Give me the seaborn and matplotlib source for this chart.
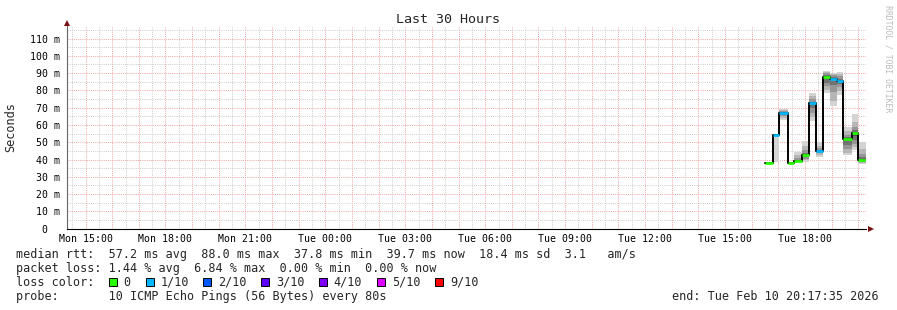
import numpy as np
import pandas as pd
import matplotlib
matplotlib.use("Agg")
import matplotlib.pyplot as plt
from matplotlib.ticker import MultipleLocator, FuncFormatter
from matplotlib.patches import Rectangle
import seaborn as sns

# ---------------- data ----------------
# step start times in hours since Mon 00:00
step_start = [40.513, 40.813, 41.038, 41.376, 41.600, 41.900, 42.163,
              42.425, 42.687, 42.950, 43.212, 43.437, 43.774, 43.999]
end_time = 44.293
median_ms = [37.8, 54.2, 66.7, 37.9, 39.3, 42.6, 72.5,
             44.9, 88.0, 86.6, 85.6, 51.7, 55.2, 39.7]
loss_count = [0, 1, 1, 0, 0, 0, 1, 1, 0, 1, 1, 0, 0, 0]
pings_ms = [
    [37.5, 37.6, 37.7, 37.7, 37.8, 37.8, 37.9, 38.0, 38.1, 38.3],
    [38.5, 54.0, 54.1, 54.1, 54.2, 54.2, 54.3, 54.3, 54.4],
    [63.0, 64.0, 65.2, 66.0, 66.7, 67.2, 67.8, 68.4, 69.3],
    [37.6, 37.7, 37.8, 37.8, 37.9, 37.9, 38.0, 38.0, 38.1, 38.2],
    [38.5, 38.7, 38.9, 39.1, 39.3, 39.3, 39.8, 40.8, 42.5, 44.3],
    [38.5, 39.5, 40.6, 41.6, 42.4, 42.8, 43.8, 45.3, 48.0, 51.0],
    [62.3, 64.5, 67.0, 70.0, 72.5, 73.5, 74.8, 76.5, 78.5],
    [41.4, 42.5, 43.5, 44.3, 44.9, 45.6, 46.6, 48.0, 50.0],
    [78.5, 80.5, 82.5, 84.5, 86.5, 88.0, 89.0, 89.8, 90.5, 91.1],
    [71.0, 74.0, 79.0, 83.0, 86.6, 87.8, 88.8, 89.6, 90.2],
    [77.2, 79.5, 81.8, 83.8, 85.6, 86.8, 88.2, 89.5, 90.7],
    [42.4, 44.0, 46.0, 48.5, 50.8, 51.7, 52.8, 54.3, 56.5, 58.8],
    [45.3, 47.0, 49.0, 51.2, 53.5, 55.2, 56.8, 58.8, 62.0, 66.2],
    [37.5, 38.0, 38.8, 39.3, 39.7, 40.4, 41.5, 43.0, 46.0, 50.0],
]
loss_labels = ["0", "1/10", "2/10", "3/10", "4/10", "5/10", "9/10"]
loss_values = [0, 1, 2, 3, 4, 5, 9]
loss_colors = ["#26ff00", "#00b8ff", "#0059ff", "#5e00ff", "#7e00ff", "#dd00ff", "#ff0000"]
smoke_shades = ["#d4d4d4", "#b6b6b6", "#969696", "#727272", "#4e4e4e"]

title = "Last 30 Hours"
y_label = "Seconds"
legend_lines = [
    "median rtt:  57.2 ms avg  88.0 ms max  37.8 ms min  39.7 ms now  18.4 ms sd  3.1   am/s",
    "packet loss: 1.44 % avg  6.84 % max  0.00 % min  0.00 % now",
]
probe_text = "probe:       10 ICMP Echo Pings (56 Bytes) every 80s"
end_text = "end: Tue Feb 10 20:17:35 2026"
credit_text = "RRDTOOL / TOBI OETIKER"

# ---------------- figure ----------------
sns.set_theme(style="white")
plt.rcParams["font.family"] = ["DejaVu Sans Mono", "DejaVu Sans"]

W, H = 897, 310
fig = plt.figure(figsize=(W / 100, H / 100), dpi=100, facecolor="white")

left_px, right_px, top_px, bottom_px = 66.7, 866.0, 26.0, 228.7
px_per_ms = 1.729
ax = fig.add_axes([left_px / W, 1 - bottom_px / H,
                   (right_px - left_px) / W, (bottom_px - top_px) / H])
ax.set_facecolor("white")
ax.set_xlim(end_time - 30, end_time)
ax.set_ylim(0, (bottom_px - top_px) / px_per_ms)

def fx(x):
    return x / W

def fy(y):
    return 1 - y / H

# grid
ax.xaxis.set_major_locator(MultipleLocator(1))
ax.xaxis.set_minor_locator(MultipleLocator(0.5))
ax.yaxis.set_major_locator(MultipleLocator(10))
ax.yaxis.set_minor_locator(MultipleLocator(5))
ax.set_axisbelow(True)
ax.grid(which="minor", color="#cccccc", linestyle=(0, (1, 1.2)), linewidth=0.7)
ax.grid(which="major", color="#f2a2a2", linestyle=(0, (1, 1.2)), linewidth=0.7)

def xfmt(h, pos):
    hi = int(round(h))
    if hi % 3 != 0:
        return ""
    day = ["Mon", "Tue", "Wed"][hi // 24]
    return f"{day} {hi % 24:02d}:00"

def yfmt(v, pos):
    vi = int(round(v))
    return "0  " if vi == 0 else f"{vi} m"

ax.xaxis.set_major_formatter(FuncFormatter(xfmt))
ax.yaxis.set_major_formatter(FuncFormatter(yfmt))
ax.tick_params(axis="x", which="major", length=2.0, width=0.7, color="#e07070",
               pad=1.6, labelsize=7.1, labelcolor="black")
ax.tick_params(axis="x", which="minor", length=1.2, width=0.6, color="#999999")
ax.tick_params(axis="y", which="both", length=0, pad=4.8, labelsize=7.1, labelcolor="black")

for s in ["top", "right"]:
    ax.spines[s].set_visible(False)
ax.spines["left"].set_color("#666666")
ax.spines["left"].set_linewidth(0.8)
ax.spines["bottom"].set_color("black")
ax.spines["bottom"].set_linewidth(0.8)

# smoke
step_end = step_start[1:] + [end_time]
for t0, t1, p in zip(step_start, step_end, pings_ms):
    n = len(p)
    for k in range(n // 2):
        lo, hi = p[k], p[n - 1 - k]
        if hi > lo:
            ax.fill_between([t0, t1], [lo, lo], [hi, hi], color=smoke_shades[k],
                            linewidth=0, step="post")

# median black step line
df = pd.DataFrame({"t": step_start + [end_time], "ms": median_ms + [median_ms[-1]]})
sns.lineplot(data=df, x="t", y="ms", ax=ax, color="black", linewidth=1.4,
             drawstyle="steps-post", estimator=None, sort=False)
ax.set_xlabel("")
ax.set_ylabel("")

# coloured median segments by loss
cmap = dict(zip(loss_values, loss_colors))
ax.hlines(median_ms, step_start, step_end,
          colors=[cmap[l] for l in loss_count], linewidth=2.0, zorder=5)

# axis arrows
ax.plot([fx(66.7)], [fy(22.5)], marker="^", ms=4, color="#7a1010",
        transform=fig.transFigure, clip_on=False, markeredgewidth=0)
ax.plot([fx(870.5)], [fy(228.7)], marker=">", ms=4, color="#7a1010",
        transform=fig.transFigure, clip_on=False, markeredgewidth=0)

# texts
fig.text(fx(447.5), fy(19.3), title, ha="center", va="center", fontsize=9.6)
fig.text(fx(11), fy(127), y_label, rotation=90, ha="center", va="center", fontsize=8.6)
fig.text(fx(887.7), fy(59), credit_text, rotation=270, ha="center", va="center",
         fontsize=5.9, color="#bbbbbb")

fig.text(fx(16), fy(254.3), legend_lines[0], ha="left", va="center", fontsize=8.5)
fig.text(fx(16), fy(268.3), legend_lines[1], ha="left", va="center", fontsize=8.5)
fig.text(fx(16), fy(282.3), "loss color:", ha="left", va="center", fontsize=8.5)
square_x = [108.5, 145.7, 203.3, 261.3, 319.3, 377.3, 435.3]
for sx, lab, col in zip(square_x, loss_labels, loss_colors):
    fig.add_artist(Rectangle((fx(sx), fy(286.3)), 8 / W, 8 / H, transform=fig.transFigure,
                             facecolor=col, edgecolor="black", linewidth=0.7))
    fig.text(fx(sx + 14.5), fy(282.3), lab, ha="left", va="center", fontsize=8.5)
fig.text(fx(16), fy(296.3), probe_text, ha="left", va="center", fontsize=8.5)
fig.text(fx(879), fy(296.3), end_text, ha="right", va="center", fontsize=8.5)

fig.savefig("out.png", dpi=100, facecolor="white")
